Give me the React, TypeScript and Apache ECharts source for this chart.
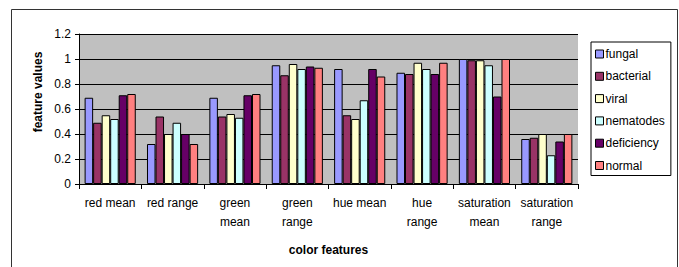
import React, { useEffect, useRef } from "react";
import * as echarts from "echarts";

const categories = [
  "red mean",
  "red range",
  "green\nmean",
  "green\nrange",
  "hue mean",
  "hue\nrange",
  "saturation\nmean",
  "saturation\nrange",
];
const seriesNames = ["fungal", "bacterial", "viral", "nematodes", "deficiency", "normal"];
const colors = ["#9999FF", "#993366", "#FFFFCC", "#CCFFFF", "#660066", "#FF8080"];
const fungal = [0.69, 0.32, 0.69, 0.95, 0.92, 0.89, 1.0, 0.36];
const bacterial = [0.49, 0.54, 0.54, 0.87, 0.55, 0.88, 0.99, 0.37];
const viral = [0.55, 0.4, 0.56, 0.96, 0.52, 0.97, 0.99, 0.4];
const nematodes = [0.52, 0.49, 0.53, 0.92, 0.67, 0.92, 0.95, 0.23];
const deficiency = [0.71, 0.4, 0.71, 0.94, 0.92, 0.88, 0.7, 0.34];
const normal = [0.72, 0.32, 0.72, 0.93, 0.86, 0.97, 1.0, 0.4];
const seriesData = [fungal, bacterial, viral, nematodes, deficiency, normal];
const yTicks = { min: 0, max: 1.2, interval: 0.2 };

const FONT = "Liberation Sans, Arial, sans-serif";

export default function App() {
  const ref = useRef<HTMLDivElement>(null);
  useEffect(() => {
    if (!ref.current) return;
    const chart = echarts.init(ref.current, null, { renderer: "svg" });
    chart.setOption({
      animation: false,
      backgroundColor: "#ffffff",
      textStyle: { fontFamily: FONT },
      grid: {
        left: 79,
        top: 34,
        right: 101,
        bottom: 83,
        show: true,
        backgroundColor: "#C0C0C0",
        borderWidth: 0,
        outerBoundsMode: "none",
      },
      legend: {
        orient: "vertical",
        left: 591,
        top: 42,
        width: 83,
        height: 134,
        padding: [6, 6, 4, 4],
        itemGap: 10.3,
        itemWidth: 8,
        itemHeight: 8,
        borderColor: "#000",
        borderWidth: 1,
        backgroundColor: "#fff",
        icon: "rect",
        data: seriesNames,
        textStyle: { fontFamily: FONT, fontSize: 12, color: "#000", padding: [0, 0, 0, -3] },
        itemStyle: { borderColor: "#000", borderWidth: 1 },
      },
      xAxis: {
        type: "category",
        data: categories,
        axisLine: { lineStyle: { color: "#000", width: 1 } },
        axisTick: { show: true, length: 5, lineStyle: { color: "#000" } },
        axisLabel: {
          interval: 0,
          color: "#000",
          fontFamily: FONT,
          fontSize: 12,
          lineHeight: 19,
          margin: 9,
        },
        name: "color features",
        nameLocation: "middle",
        nameGap: 60,
        nameTextStyle: { fontFamily: FONT, fontSize: 12, fontWeight: "bold", color: "#000" },
      },
      yAxis: {
        type: "value",
        min: yTicks.min,
        max: yTicks.max,
        interval: yTicks.interval,
        axisLine: { show: true, lineStyle: { color: "#000", width: 1 } },
        axisTick: { show: true, length: 4, lineStyle: { color: "#000" } },
        splitLine: { show: true, lineStyle: { color: "#000", width: 1 } },
        axisLabel: {
          color: "#000",
          fontFamily: FONT,
          fontSize: 12,
          margin: 8,
          formatter: (v: number) => String(Math.round(v * 10) / 10),
        },
      },
      graphic: [
        {
          type: "rect",
          silent: true,
          shape: { x: 11.5, y: 9.5, width: 666, height: 270 },
          style: { fill: "none", stroke: "#333", lineWidth: 1 },
          z: 100,
        },
        {
          type: "text",
          x: 38,
          y: 92,
          rotation: Math.PI / 2,
          style: {
            text: "feature values",
            font: `bold 12px ${FONT}`,
            fill: "#000",
            align: "center",
            verticalAlign: "middle",
          },
        },
      ],
      series: seriesNames.map((name, i) => ({
        name,
        type: "bar",
        data: seriesData[i],
        barGap: "0%",
        barCategoryGap: "18%",
        itemStyle: { color: colors[i], borderColor: "#000", borderWidth: 1 },
      })),
    });
    return () => chart.dispose();
  }, []);
  return (
    <div
      ref={ref}
      style={{ position: "absolute", left: 0, top: 0, width: 679, height: 267 }}
    />
  );
}
